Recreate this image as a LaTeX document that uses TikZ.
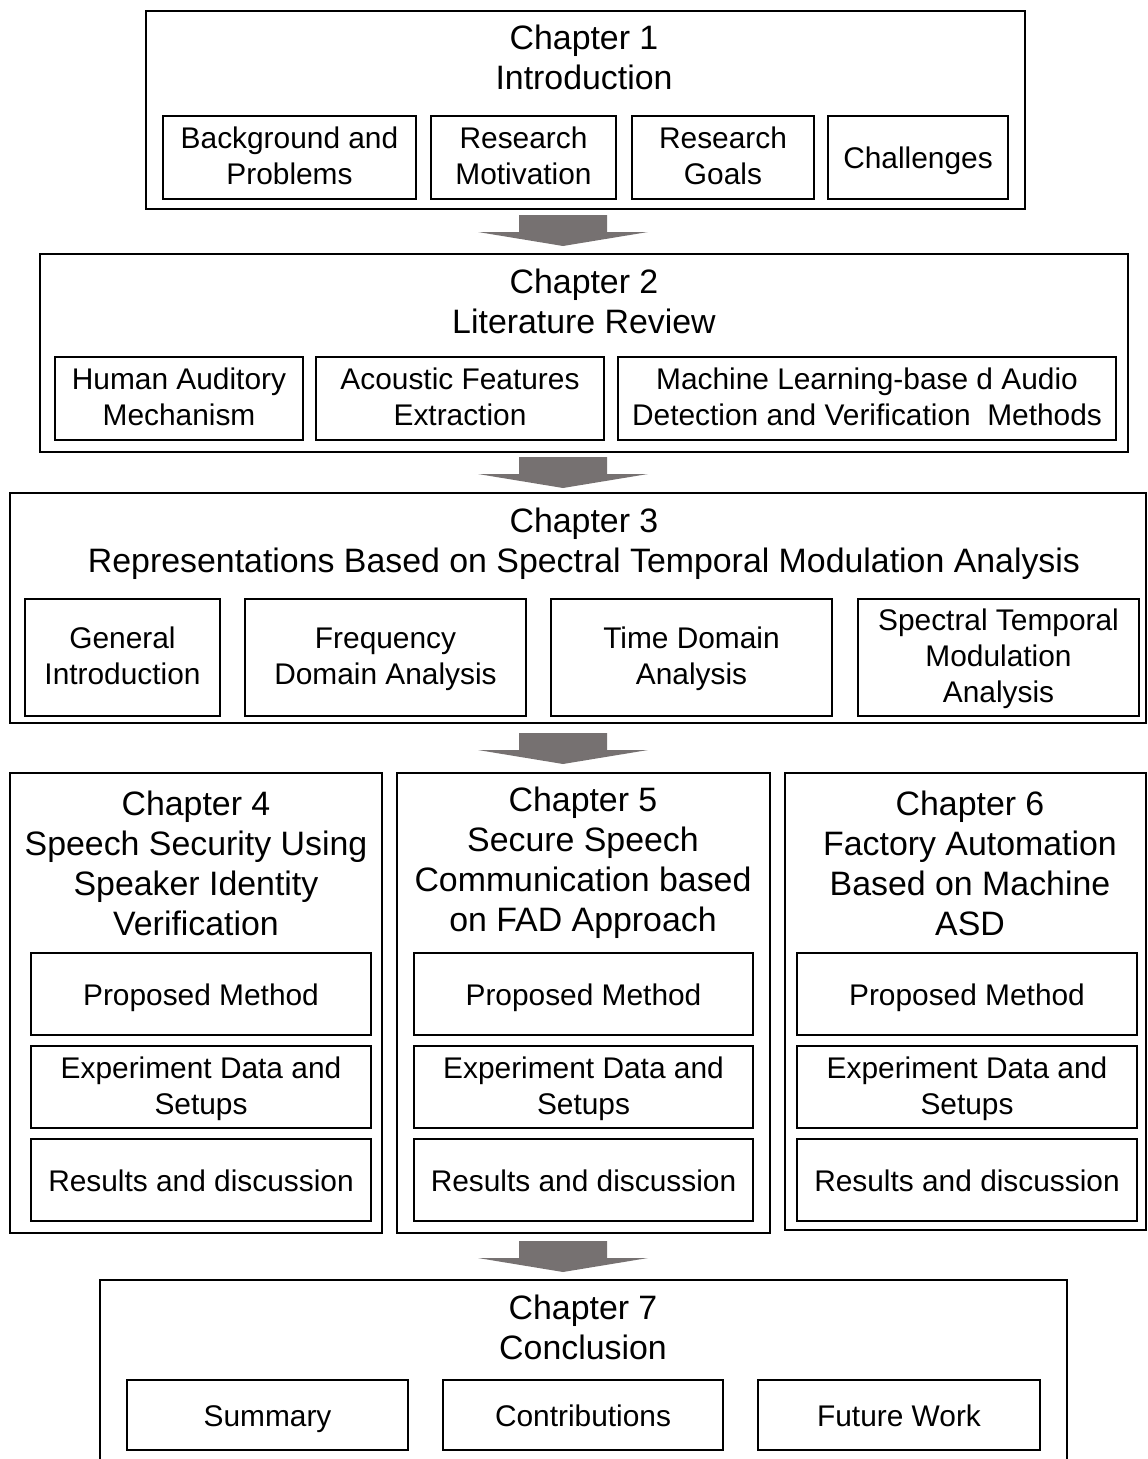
\documentclass[tikz,border=0pt]{standalone}
\usepackage{fontspec}
\setmainfont{Liberation Sans}
\definecolor{arrowgray}{HTML}{767171}
% box from (x1,y1) to (x2,y2) in pixel units: style, x1, y1, x2, y2, name, text
\newcommand\chbox[7]{\node[#1, minimum width={(#4-#2)*0.75pt}, minimum height={(#5-#3)*0.75pt}] (#6) at ({(#2+#4)/2},{(#3+#5)/2}) {#7};}
\begin{document}
\begin{tikzpicture}[x=0.75pt,y=-0.75pt,
  chap/.style={draw, line width=2pt, inner sep=0pt},
  sub/.style={draw, line width=1.9pt, inner sep=0pt, align=center, font=\fontsize{22.4}{27}\selectfont,
    execute at begin node=\strut, execute at end node=\strut},
  subtext/.style={inner sep=0pt, align=center, font=\fontsize{22.4}{27}\selectfont, yshift=-3pt,
    execute at begin node=\strut, execute at end node=\strut},
  title/.style={align=center, font=\fontsize{25.4}{30}\selectfont, inner sep=0pt, yshift=-3pt,
    execute at begin node=\strut, execute at end node=\strut},
  down arrow/.pic={\fill[arrowgray] (-44,0) -- (44,0) -- (44,17) -- (85,17) -- (0,31) -- (-85,17) -- (-44,17) -- cycle;}]
\clip (0,0) rectangle (1148,1459);

% Chapter 1
\chbox{chap}{146}{11}{1025}{209}{ch1}{}
\node[title] (ch1t) at (584,59) {Chapter 1\\Introduction};
\chbox{chap}{163}{116}{416}{199}{c1a}{}
\chbox{chap}{431}{116}{616}{199}{c1b}{}
\chbox{chap}{632}{116}{814}{199}{c1c}{}
\chbox{chap}{828}{116}{1008}{199}{c1d}{}
\node[subtext] at (c1a) {Background and\\Problems};
\node[subtext] at (c1b) {Research\\Motivation};
\node[subtext] at (c1c) {Research\\Goals};
\node[subtext] at (c1d) {Challenges};

\coordinate (a1) at (563,215);
\pic at (a1) {down arrow};

% Chapter 2
\chbox{chap}{40}{254}{1128}{452}{ch2}{}
\node[title] (ch2t) at (584,303) {Chapter 2\\Literature Review};
\chbox{chap}{55}{357}{303}{440}{c2a}{}
\chbox{chap}{316}{357}{604}{440}{c2b}{}
\chbox{chap}{618}{357}{1116}{440}{c2c}{}
\node[subtext] at (c2a) {Human Auditory\\Mechanism};
\node[subtext] at (c2b) {Acoustic Features\\Extraction};
\node[subtext] at (c2c) {Machine Learning-base d Audio\\Detection and Verification~ Methods};

\coordinate (a2) at (563,457);
\pic at (a2) {down arrow};

% Chapter 3
\chbox{chap}{10}{493}{1146}{723}{ch3}{}
\node[title] (ch3t) at (584,542) {Chapter 3\\Representations Based on Spectral Temporal Modulation Analysis};
\chbox{chap}{25}{599}{220}{716}{c3a}{}
\chbox{chap}{245}{599}{526}{716}{c3b}{}
\chbox{chap}{551}{599}{832}{716}{c3c}{}
\chbox{chap}{858}{599}{1139}{716}{c3d}{}
\node[subtext] at (c3a) {General\\Introduction};
\node[subtext] at (c3b) {Frequency\\Domain Analysis};
\node[subtext] at (c3c) {Time Domain\\Analysis};
\node[subtext] at (c3d) {Spectral Temporal\\Modulation\\Analysis};

\coordinate (a3) at (563,733);
\pic at (a3) {down arrow};

% Chapters 4 to 6
\chbox{chap}{10}{773}{382}{1233}{ch4}{}
\node[title] (ch4t) at (196,865) {Chapter 4\\Speech Security Using\\Speaker Identity\\Verification};
\chbox{chap}{31}{953}{371}{1035}{c4a}{}
\chbox{chap}{31}{1046}{371}{1128}{c4b}{}
\chbox{chap}{31}{1139}{371}{1221}{c4c}{}
\node[subtext] at (c4a) {Proposed Method};
\node[subtext] at (c4b) {Experiment Data and\\Setups};
\node[subtext] at (c4c) {Results and discussion};

\chbox{chap}{397}{773}{770}{1233}{ch5}{}
\node[title] (ch5t) at (583,861) {Chapter 5\\Secure Speech\\Communication based\\on FAD Approach};
\chbox{chap}{414}{953}{753}{1035}{c5a}{}
\chbox{chap}{414}{1046}{753}{1128}{c5b}{}
\chbox{chap}{414}{1139}{753}{1221}{c5c}{}
\node[subtext] at (c5a) {Proposed Method};
\node[subtext] at (c5b) {Experiment Data and\\Setups};
\node[subtext] at (c5c) {Results and discussion};

\chbox{chap}{785}{773}{1146}{1230}{ch6}{}
\node[title] (ch6t) at (970,865) {Chapter 6\\Factory Automation\\Based on Machine\\ASD};
\chbox{chap}{797}{953}{1137}{1035}{c6a}{}
\chbox{chap}{797}{1046}{1137}{1128}{c6b}{}
\chbox{chap}{797}{1139}{1137}{1221}{c6c}{}
\node[subtext] at (c6a) {Proposed Method};
\node[subtext] at (c6b) {Experiment Data and\\Setups};
\node[subtext] at (c6c) {Results and discussion};

\coordinate (a4) at (563,1241);
\pic at (a4) {down arrow};

% Chapter 7 (runs past the lower edge)
\chbox{chap}{100}{1280}{1067}{1490}{ch7}{}
\node[title] (ch7t) at (583,1329) {Chapter 7\\Conclusion};
\chbox{chap}{127}{1380}{408}{1450}{c7a}{}
\chbox{chap}{443}{1380}{723}{1450}{c7b}{}
\chbox{chap}{758}{1380}{1040}{1450}{c7c}{}
\node[subtext] at (c7a) {Summary};
\node[subtext] at (c7b) {Contributions};
\node[subtext] at (c7c) {Future Work};
\end{tikzpicture}
\end{document}
